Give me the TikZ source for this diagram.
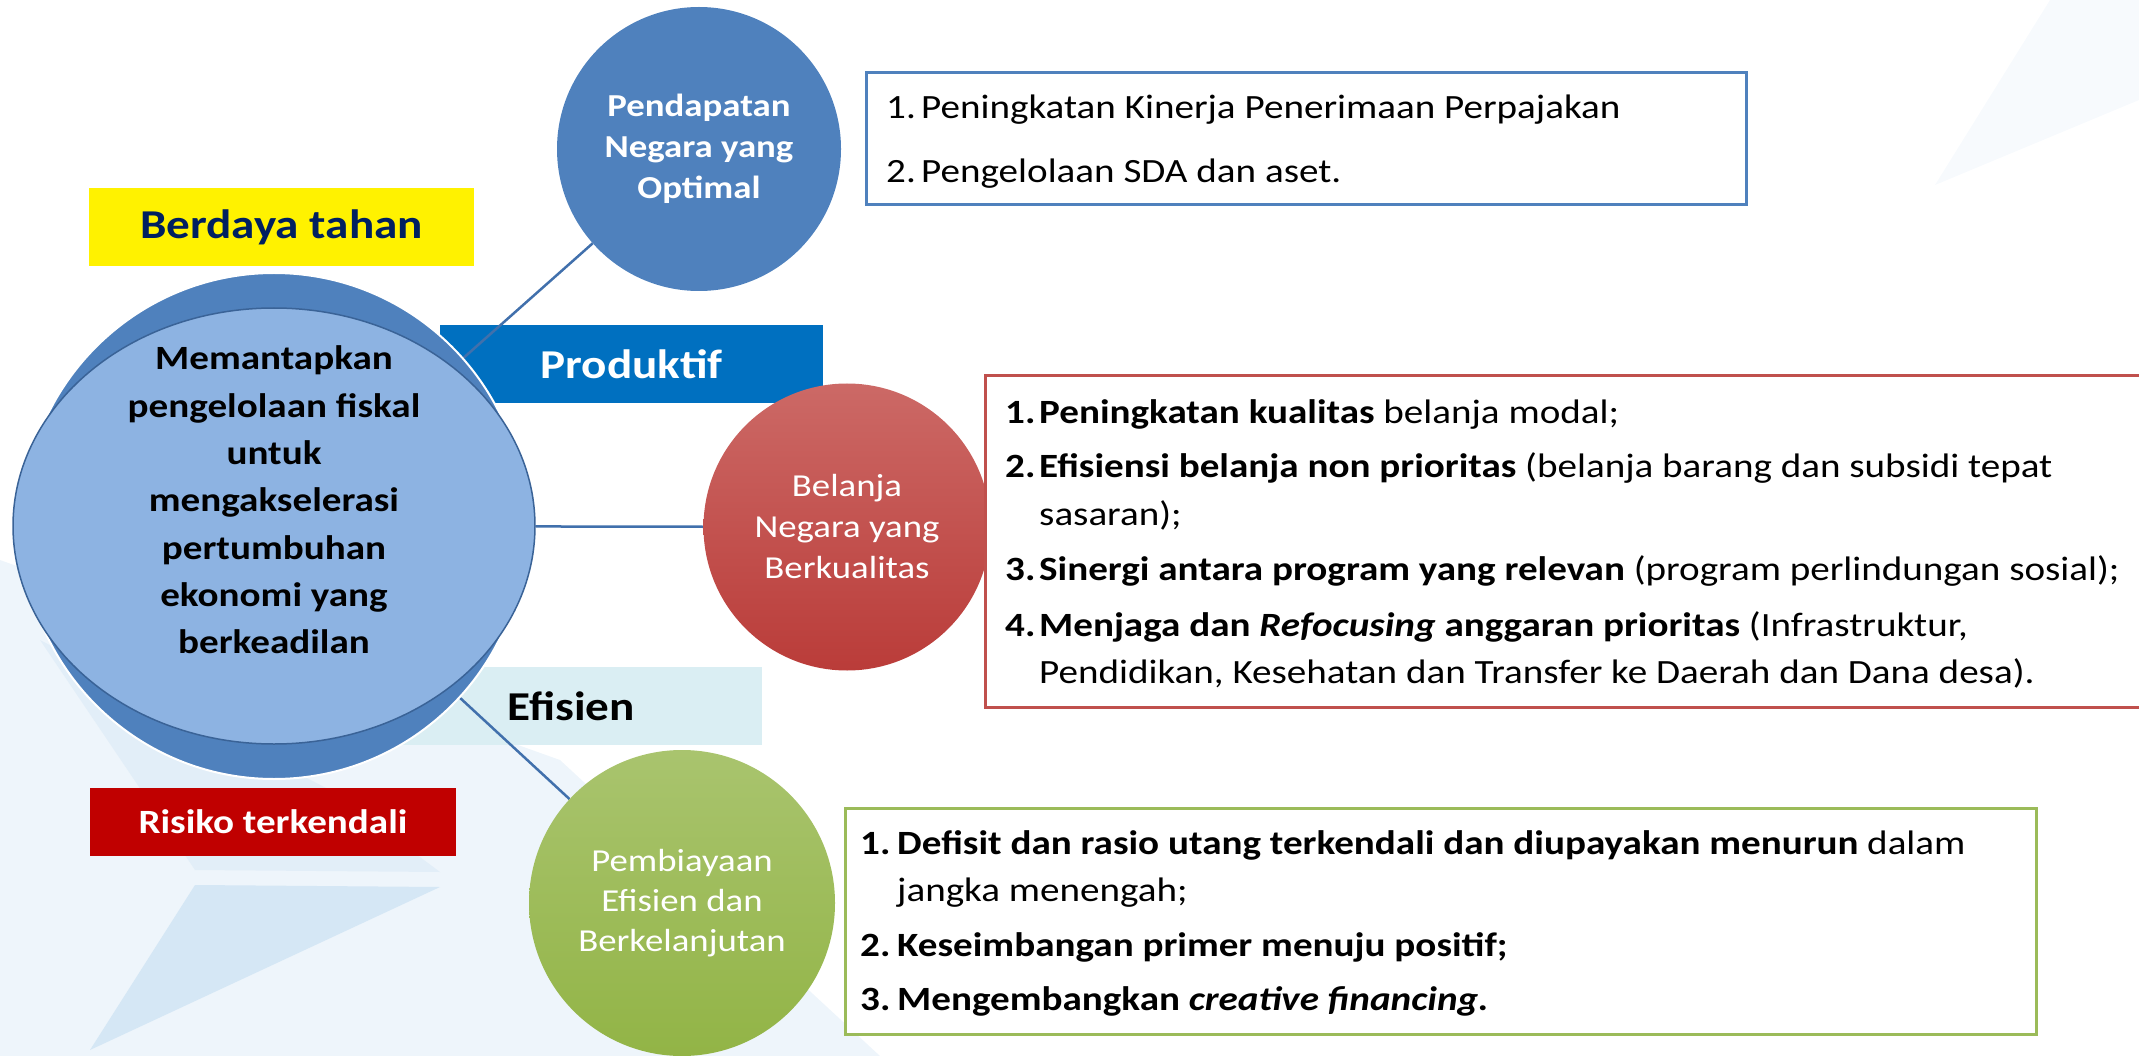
\documentclass[tikz,border=0pt]{standalone}
\usepackage{fontspec}
\setmainfont{Carlito}[FakeStretch=1.15]
\usetikzlibrary{shapes.geometric}
\newcommand{\fsz}[2]{\fontsize{#1}{#2}\selectfont}
\definecolor{cdark}{HTML}{4F81BD}
\definecolor{clight}{HTML}{8DB3E2}
\definecolor{cedge}{HTML}{3A6397}
\definecolor{cline}{HTML}{4170AC}
\definecolor{redtop}{HTML}{CC6966}
\definecolor{redbot}{HTML}{BA3C39}
\definecolor{grtop}{HTML}{A9C46E}
\definecolor{grbot}{HTML}{92B446}
\definecolor{navy}{HTML}{002060}
\definecolor{prodblue}{HTML}{0070C0}
\definecolor{efblue}{HTML}{DAEEF3}
\definecolor{riskred}{HTML}{C00000}
\definecolor{bxblue}{HTML}{4F81BD}
\definecolor{bxred}{HTML}{C0504D}
\definecolor{bxgreen}{HTML}{9BBB59}
\definecolor{wmA}{HTML}{EEF5FB}
\definecolor{wmB}{HTML}{E2EEF8}
\definecolor{wmC}{HTML}{D5E7F5}
\definecolor{wmD}{HTML}{F7FAFD}
\pgfdeclarelayer{wm}
\pgfdeclarelayer{lab}
\pgfdeclarelayer{lines}
\pgfsetlayers{wm,lab,lines,main}
\begin{document}
\begin{tikzpicture}[x=1pt,y=-1pt,
  conn/.style={draw=cline,line width=2.5},
  labbox/.style={inner sep=0,minimum height=78,font=\bfseries\fsz{41}{48}},
  txtbox/.style={draw,line width=3,fill=white,inner sep=0},
  ln/.style={anchor=base west,inner sep=0,font=\fsz{34}{40}},
  ctext/.style={align=center,inner sep=0,text=white}]
\useasboundingbox (0,0) rectangle (2139,1056);
\begin{pgfonlayer}{wm}
  \fill[wmA] (0,560) -- (560,760) -- (880,1056) -- (0,1056) -- cycle;
  \fill[wmB] (40,640) -- (195,870) -- (440,872) -- (330,790) -- cycle;
  \fill[wmC] (195,885) -- (440,887) -- (90,1050) -- cycle;
  \fill[wmD] (1935,185) -- (2050,0) -- (2139,0) -- (2139,100) -- cycle;
\end{pgfonlayer}

% central ellipse
\node[ellipse,fill=cdark,draw=white,line width=2,minimum width=504,minimum height=506,inner sep=0] (cen) at (274,526) {};
\node[ellipse,fill=clight,draw=cedge,line width=1.5,minimum width=522,minimum height=436,inner sep=0] (cenin) at (274,526) {};
\node[align=center,inner sep=0,font=\bfseries\fsz{34}{47.3}] (centext) at (274,500)
  {Memantapkan\\pengelolaan fiskal\\untuk\\mengakselerasi\\pertumbuhan\\ekonomi yang\\berkeadilan};

% circles
\node[circle,fill=cdark,minimum size=284,ctext,font=\bfseries\fsz{32}{41}] (pend) at (699,149)
  {Pendapatan\\Negara yang\\Optimal};
\node[circle,top color=redtop,bottom color=redbot,minimum size=287,ctext,font=\fsz{32}{41}] (bel) at (847,527)
  {Belanja\\Negara yang\\Berkualitas};
\node[circle,top color=grtop,bottom color=grbot,minimum size=306,ctext,font=\fsz{32}{40}] (pemb) at (682,903)
  {Pembiayaan\\Efisien dan\\Berkelanjutan};

% label boxes
\node[labbox,fill=yellow,text=navy,minimum width=385] (berdaya) at (281.5,227) {Berdaya tahan};
\node[labbox,fill=riskred,text=white,minimum width=366,minimum height=68,font=\bfseries\fsz{34}{40}] (risiko) at (273,822) {Risiko terkendali};
\begin{pgfonlayer}{lab}
  \node[labbox,fill=prodblue,text=white,minimum width=383] (prod) at (631.5,364) {Produktif};
  \node[labbox,fill=efblue,text=black,minimum width=382] (efis) at (571,706) {Efisien};
\end{pgfonlayer}

% connectors
\begin{pgfonlayer}{lines}
  \draw[conn] (cen) -- (pend);
  \draw[conn] (cenin) -- (bel);
  \draw[conn] (cen) -- (pemb);
\end{pgfonlayer}

% text box 1
\node[txtbox,draw=bxblue,minimum width=880,minimum height=132] (box1) at (1306,139) {};
\node[ln] (b1a) at (886,119) {\makebox[35pt][l]{1.}Peningkatan Kinerja Penerimaan Perpajakan};
\node[ln] (b1b) at (886,183) {\makebox[35pt][l]{2.}Pengelolaan SDA dan aset.};

% text box 2
\node[txtbox,draw=bxred,minimum width=1165,minimum height=331] (box2) at (1567.5,541.5) {};
\node[ln] (b2a) at (1005,423) {\makebox[34pt][l]{\bfseries 1.}\textbf{Peningkatan kualitas} belanja modal;};
\node[ln] (b2b) at (1005,477) {\makebox[34pt][l]{\bfseries 2.}\textbf{Efisiensi belanja non prioritas} (belanja barang dan subsidi tepat};
\node[ln] (b2c) at (1039,525) {sasaran);};
\node[ln] (b2d) at (1005,580) {\makebox[34pt][l]{\bfseries 3.}\textbf{Sinergi antara program yang relevan} (program perlindungan sosial);};
\node[ln] (b2e) at (1005,636) {\makebox[34pt][l]{\bfseries 4.}\textbf{Menjaga dan \textit{Refocusing} anggaran prioritas} (Infrastruktur,};
\node[ln] (b2f) at (1039,683) {Pendidikan, Kesehatan dan Transfer ke Daerah dan Dana desa).};

% text box 3
\node[txtbox,draw=bxgreen,minimum width=1191,minimum height=226] (box3) at (1440.5,921) {};
\node[ln] (b3a) at (860,854) {\makebox[37pt][l]{\bfseries 1.}\textbf{Defisit dan rasio utang terkendali dan diupayakan menurun} dalam};
\node[ln] (b3b) at (897,901) {jangka menengah;};
\node[ln] (b3c) at (860,956) {\makebox[37pt][l]{\bfseries 2.}\textbf{Keseimbangan primer menuju positif;}};
\node[ln] (b3d) at (860,1010) {\makebox[37pt][l]{\bfseries 3.}\textbf{Mengembangkan \textit{creative financing.}}};
\end{tikzpicture}
\end{document}
